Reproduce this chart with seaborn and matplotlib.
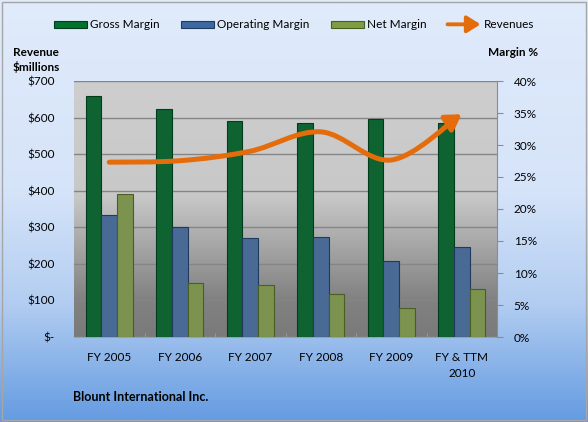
import numpy as np
import pandas as pd
import matplotlib
matplotlib.use("Agg")
import matplotlib.pyplot as plt
import seaborn as sns
from matplotlib.path import Path
from matplotlib.patches import FancyArrowPatch, Patch, Rectangle
from matplotlib.legend_handler import HandlerBase
from matplotlib.ticker import FuncFormatter, MultipleLocator

# data
years = ["FY 2005", "FY 2006", "FY 2007", "FY 2008", "FY 2009", "FY & TTM\n2010"]
gross_margin = [37.7, 35.6, 33.8, 33.5, 34.0, 33.4]
operating_margin = [19.0, 17.2, 15.5, 15.7, 11.9, 14.0]
net_margin = [22.3, 8.5, 8.1, 6.7, 4.5, 7.5]
revenues = [478, 482, 508, 561, 484, 609]

series_names = ["Gross Margin", "Operating Margin", "Net Margin"]
bar_colors = ["#00712f", "#3d68a0", "#7f9e43"]
edge_colors = ["#013d1c", "#1f3a5e", "#4a5e22"]
orange = "#e46c0a"

plt.rcParams["font.family"] = ["Lato", "DejaVu Sans"]
plt.rcParams["font.size"] = 8.5

df = pd.DataFrame({
    "year": np.repeat(years, 3),
    "metric": series_names * len(years),
    "value": np.ravel(np.column_stack([gross_margin, operating_margin, net_margin])),
})

fig = plt.figure(figsize=(5.88, 4.22), dpi=100)

# figure background gradient
bg = fig.add_axes([0, 0, 1, 1], zorder=-10)
t = np.linspace(0, 1, 256)
stops = [0, 0.45, 0.72, 1.0]
cols = np.array([[224, 235, 251], [214, 228, 249], [178, 205, 241], [100, 155, 225]]) / 255
grad = np.stack([np.interp(t, stops, cols[:, k]) for k in range(3)], axis=-1)
bg.imshow(grad[:, None, :], aspect="auto", extent=[0, 1, 0, 1])
bg.set_axis_off()
fig.patches.append(Rectangle((0.004, 0.005), 0.992, 0.99, transform=fig.transFigure,
                             fill=False, edgecolor="#a6a6a6", lw=1))

rect = [74 / 588, 1 - 337 / 422, (497 - 74) / 588, (337 - 81) / 422]
ax = fig.add_axes(rect)
ax_bar = ax.twinx()
ax_line = ax.twinx()

# plot area gradient + grid (revenue scale)
pstops = [0, 0.45, 0.85, 1.0]
pcols = np.array([[206, 206, 206], [200, 200, 200], [130, 130, 130], [122, 122, 122]]) / 255
pgrad = np.stack([np.interp(t, pstops, pcols[:, k]) for k in range(3)], axis=-1)
ax.imshow(pgrad[:, None, :], aspect="auto", extent=[0, 1, 0, 1],
          transform=ax.transAxes, zorder=0)
ax.set_xlim(-0.5, len(years) - 0.5)
ax.set_ylim(0, 700)
ax.yaxis.set_major_locator(MultipleLocator(100))
ax.yaxis.set_major_formatter(FuncFormatter(lambda v, p: "$-" if v == 0 else f"${v:,.0f}"))
ax.grid(axis="y", color="#858585", lw=1, zorder=1)
ax.set_axisbelow(True)
ax.tick_params(axis="y", length=0, pad=14, labelsize=8.5)
ax.set_xticks(np.arange(len(years)))
ax.set_xticklabels(years, linespacing=1.5)
ax.tick_params(axis="x", length=0, pad=11, labelsize=8.5)
ax.set_xticks(np.arange(len(years) - 1) + 0.5, minor=True)
ax.tick_params(axis="x", which="minor", direction="in", length=3, color="#a0a0a0")
for s in ["top", "left", "right"]:
    ax.spines[s].set_visible(False)
ax.spines["bottom"].set_color("#a0a0a0")

# bars (margin scale, right axis)
sns.barplot(data=df, x="year", y="value", hue="metric", hue_order=series_names,
            palette=bar_colors, width=0.66, gap=0, legend=False, ax=ax_bar, zorder=3)
for cont, ec in zip(ax_bar.containers, edge_colors):
    for b in cont:
        b.set_edgecolor(ec)
        b.set_linewidth(0.8)
ax_bar.set_xlim(-0.5, len(years) - 0.5)
ax_bar.set_ylim(0, 40)
ax_bar.yaxis.set_major_locator(MultipleLocator(5))
ax_bar.yaxis.set_major_formatter(FuncFormatter(lambda v, p: f"{v:.0f}%"))
ax_bar.tick_params(axis="y", direction="out", length=4, color="#8c8c8c", pad=8, labelsize=8.5)
ax_bar.set_xlabel("")
ax_bar.set_ylabel("")
for s in ["top", "left", "bottom"]:
    ax_bar.spines[s].set_visible(False)
ax_bar.spines["right"].set_color("#8c8c8c")

# revenue line, smoothed, with arrow head
ax_line.set_xlim(-0.5, len(years) - 0.5)
ax_line.set_ylim(0, 700)
ax_line.set_axis_off()
pts = np.column_stack([np.arange(len(years)), revenues]).astype(float)
ext = np.vstack([pts[0], pts, pts[-1]])
verts = [pts[0]]
codes = [Path.MOVETO]
for i in range(len(pts) - 1):
    p0, p1, p2, p3 = ext[i], ext[i + 1], ext[i + 2], ext[i + 3]
    verts += [p1 + (p2 - p0) / 6, p2 - (p3 - p1) / 6, p2]
    codes += [Path.CURVE4] * 3
arrow = FancyArrowPatch(path=Path(verts, codes), arrowstyle="-|>,head_length=0.9,head_width=0.55",
                        mutation_scale=10, color=orange, lw=3.6, transform=ax_line.transData,
                        capstyle="round", zorder=5)
ax_line.add_patch(arrow)


class HandlerArrow(HandlerBase):
    def create_artists(self, legend, orig_handle, xdescent, ydescent, width, height, fontsize, trans):
        y = height / 2 - ydescent
        a = FancyArrowPatch((-xdescent, y), (width - xdescent, y),
                            arrowstyle="-|>,head_length=0.8,head_width=0.5", mutation_scale=10,
                            color=orange, lw=2.8, shrinkA=0, shrinkB=0, transform=trans)
        return [a]


handles = [Patch(facecolor=c, edgecolor=e, lw=0.8) for c, e in zip(bar_colors, edge_colors)]
handles.append(Patch(color=orange))
labels = series_names + ["Revenues"]
fig.legend(handles, labels, loc="center", bbox_to_anchor=(0.5, 1 - 25 / 422), ncol=4,
           frameon=False, handlelength=2.8, handleheight=0.55, handletextpad=0.25,
           columnspacing=1.8, fontsize=8.5,
           handler_map={handles[-1]: HandlerArrow()})

fig.text(13 / 588, 1 - 52 / 422, "Revenue", fontweight="bold", fontsize=8.5, va="center")
fig.text(13 / 588, 1 - 67 / 422, "$millions", fontweight="bold", fontsize=8.5, va="center")
fig.text(538 / 588, 1 - 52 / 422, "Margin %", fontweight="bold", fontsize=8.5, va="center", ha="right")
fig.text(73 / 588, 1 - 397 / 422, "Blount International Inc.", fontweight="bold", fontsize=9,
         va="center")

fig.savefig("out.png", dpi=100)
